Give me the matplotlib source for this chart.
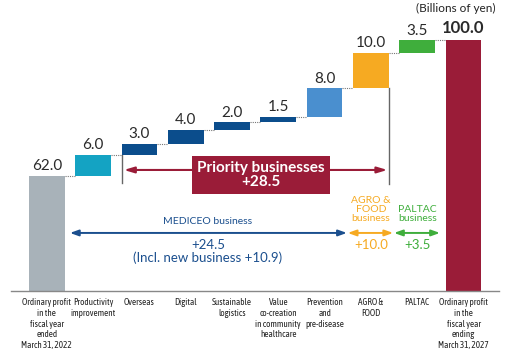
import matplotlib
matplotlib.use('Agg')
import matplotlib.pyplot as plt
from matplotlib import font_manager

# Waterfall data (billions of yen)
categories = ['Ordinary profit\nin the\nfiscal year\nended\nMarch 31, 2022',
              'Productivity\nimprovement', 'Overseas', 'Digital',
              'Sustainable\nlogistics',
              'Value\nco-creation\nin community\nhealthcare',
              'Prevention\nand\npre-disease', 'AGRO &\nFOOD', 'PALTAC',
              'Ordinary profit\nin the\nfiscal year\nending\nMarch 31, 2027']
values = [62.0, 6.0, 3.0, 4.0, 2.0, 1.5, 8.0, 10.0, 3.5, 100.0]
colors = ['#a8b2b9', '#14a3c3', '#0b4d8c', '#0b4d8c', '#0b4d8c', '#0b4d8c',
          '#4a8fcf', '#f6aa22', '#3fae3c', '#9a1c38']
new_business = 10.9

names = {f.name for f in font_manager.fontManager.ttflist}
numfont = 'Lato' if 'Lato' in names else 'DejaVu Sans'
narrow, narrow_size = 'DejaVu Sans', 5.2
for cand in ['Asap Condensed', 'Barlow Semi Condensed', 'Barlow Condensed']:
    if cand in names:
        narrow, narrow_size = cand, 6.6
        break

base = 30
width = 0.77
crimson = '#9a1c38'
blue = '#1b4f8e'
orange = '#f6aa22'
green = '#3fae3c'

fig = plt.figure(figsize=(5.2, 3.57), dpi=100)
ax = fig.add_axes([0, 0, 1, 1])
ax.set_xlim(-1.011, 10.22)
ax.set_ylim(11.43, 111.2)
ax.axis('off')

# bars
n = len(values)
bottoms = []
level = 0
for i, v in enumerate(values):
    if i == 0 or i == n - 1:
        bottoms.append(base)
        level = v
    else:
        bottoms.append(level)
        level += v
heights = [values[0] - base] + values[1:-1] + [values[-1] - base]
ax.bar(range(n), heights, bottom=bottoms, width=width, color=colors, zorder=3)

# dotted connectors
tops = [b + h for b, h in zip(bottoms, heights)]
for i in range(n - 1):
    ax.plot([i + width / 2, i + 1 - width / 2], [tops[i], tops[i]],
            ls=(0, (1, 1)), color='#777777', lw=0.8, zorder=2)

# value labels
for i, v in enumerate(values):
    last = i == n - 1
    ax.annotate(f'{v:.1f}', (i, tops[i]), xytext=(0, 5 if last else 4),
                textcoords='offset points', ha='center', va='baseline',
                fontsize=12 if last else 11, family=numfont,
                fontweight='bold' if last else 'normal', color='#2a2a2a')

ax.text(8.84, 108.8, '(Billions of yen)', ha='center', va='center',
        fontsize=8.5, family=numfont, color='#222222')

# baseline and category labels
ax.plot([-0.773, 9.77], [base, base], color='#888888', lw=1, zorder=4)
for i, c in enumerate(categories):
    ax.text(i, 27.9, c, ha='center', va='top', fontsize=narrow_size,
            family=narrow, color='#222222', linespacing=1.25)

# priority businesses bracket
priority = sum(values[2:8])
x_left = 2 - width / 2
x_right = 7 + width / 2
ax.plot([x_left, x_left], [68, 60.0], color='#666666', lw=1, zorder=2)
ax.plot([x_right, x_right], [86.5, 59.8], color='#666666', lw=1, zorder=2)
ax.annotate('', xy=(x_left + 0.05, 63.7), xytext=(x_right - 0.03, 63.7),
            arrowprops=dict(arrowstyle='<|-|>,head_length=0.6,head_width=0.18',
                            color=crimson, lw=1.5, shrinkA=0, shrinkB=0))
ax.text(4.63, 62.3, f'Priority businesses\n+{priority:.1f}', ha='center', va='center',
        fontsize=11, family=numfont, fontweight='bold', color='white',
        linespacing=1.0, zorder=5,
        bbox=dict(boxstyle='square,pad=0.32', fc=crimson, ec='none'))

# MEDICEO / AGRO / PALTAC arrows
mediceo = sum(values[1:7])
y_arr = 46.1
def darrow(x0, x1, col):
    ax.annotate('', xy=(x0, y_arr), xytext=(x1, y_arr),
                arrowprops=dict(arrowstyle='<|-|>,head_length=0.5,head_width=0.18',
                                color=col, lw=1.4, shrinkA=0, shrinkB=0))

darrow(0.5, 6.48, blue)
darrow(6.5, 7.48, orange)
darrow(7.5, 8.49, green)

ax.text(3.48, 49.4, 'MEDICEO business', ha='center', va='center',
        fontsize=7.5, family=numfont, color=blue)
ax.text(3.48, 42.7, f'+{mediceo:.1f}', ha='center', va='center',
        fontsize=9.5, family=numfont, color=blue)
ax.text(3.48, 39.2, f'(Incl. new business +{new_business:.1f})', ha='center',
        va='center', fontsize=9.5, family=numfont, color=blue)

ax.text(7.0, 49.0, 'AGRO &\nFOOD\nbusiness', ha='center', va='bottom',
        fontsize=7.5, family=numfont, color=orange, linespacing=0.95)
ax.text(7.0, 42.7, f'+{values[7]:.1f}', ha='center', va='center',
        fontsize=9.5, family=numfont, color=orange)
ax.text(8.0, 49.0, 'PALTAC\nbusiness', ha='center', va='bottom',
        fontsize=7.5, family=numfont, color=green, linespacing=0.95)
ax.text(8.0, 42.7, f'+{values[8]:.1f}', ha='center', va='center',
        fontsize=9.5, family=numfont, color=green)

plt.savefig('out.png', dpi=100)
